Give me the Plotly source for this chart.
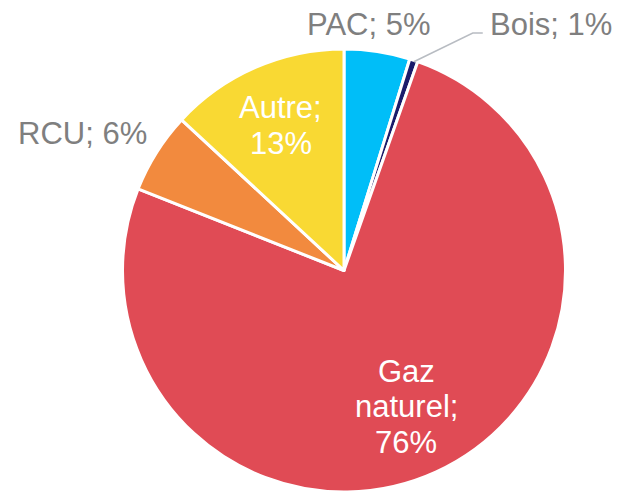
import math
import plotly.graph_objects as go

labels = ["PAC", "Bois", "Gaz naturel", "RCU", "Autre"]
values = [4.8, 0.6, 75.6, 5.9, 13.1]
colors = ["#00BEF8", "#1B1B6B", "#E04B55", "#F28A3E", "#F9D933"]
label_lines = [["PAC"], ["Bois"], ["Gaz", "naturel"], ["RCU"], ["Autre"]]

# label placement (pixel offsets relative to the slice's arc point / interior point)
W, H = 618, 492
CX, R = 344, 221.5
CY = H - R
placement = {
    "PAC": dict(kind="outside", dx=-9, dy=-27.5, xanchor="center"),
    "Bois": dict(kind="leader", xanchor="left"),
    "Gaz naturel": dict(kind="inside", frac=0.677),
    "RCU": dict(kind="outside", dx=-7.5, dy=-18.5, xanchor="right"),
    "Autre": dict(kind="inside", frac=0.715),
}
LINE_H = 35.5
FONT = "Liberation Sans, Arial, sans-serif"
FSIZE = 31
GRAY = "#7F7F7F"

total = sum(values)

fig = go.Figure(go.Pie(
    labels=labels,
    values=values,
    textinfo="none",
    sort=False,
    direction="clockwise",
    rotation=0,
    marker=dict(colors=colors, line=dict(color="white", width=3)),
    domain=dict(x=[(CX - R) / W, (CX + R) / W], y=[0, 2 * R / H]),
    showlegend=False,
    hoverinfo="label+percent",
))


def px2paper(x, y):
    return x / W, 1 - y / H


annotations = []
shapes = []
cum = 0.0
for name, v, lines in zip(labels, values, label_lines):
    pct = round(v / total * 100)
    mid = (cum + v / 2) / total * 2 * math.pi
    cum += v
    sx, sy = math.sin(mid), -math.cos(mid)
    p = placement[name]
    if p["kind"] == "inside":
        tx, ty = CX + R * p["frac"] * sx, CY + R * p["frac"] * sy
        parts = lines[:-1] + [lines[-1] + ";", f"{pct}%"]
        n = len(parts)
        for i, t in enumerate(parts):
            yy = ty + (i - (n - 1) / 2) * LINE_H
            x, y = px2paper(tx, yy)
            annotations.append(dict(x=x, y=y, xref="paper", yref="paper", text=t,
                                    showarrow=False, xanchor="center", yanchor="middle",
                                    font=dict(color="white", size=FSIZE, family=FONT)))
    else:
        ax, ay = CX + R * sx, CY + R * sy
        text = " ".join(lines) + f"; {pct}%"
        if p["kind"] == "outside":
            x, y = px2paper(ax + p["dx"], ay + p["dy"])
        else:
            ex, ey = ax + 59, 33
            fx = ex + 10
            x0, y0 = px2paper(ax, ay + 1.5)
            x1, y1 = px2paper(ex, ey)
            x2, y2 = px2paper(fx, ey)
            shapes.append(dict(type="path", xref="paper", yref="paper",
                               path=f"M {x0},{y0} L {x1},{y1} L {x2},{y2}",
                               line=dict(color="#B8BCC2", width=1.5)))
            x, y = px2paper(fx + 5, 24)
        annotations.append(dict(x=x, y=y, xref="paper", yref="paper", text=text,
                                showarrow=False, xanchor=p["xanchor"], yanchor="middle",
                                font=dict(color=GRAY, size=FSIZE, family=FONT)))

fig.update_layout(
    width=W, height=H,
    margin=dict(l=0, r=0, t=0, b=0),
    paper_bgcolor="white",
    plot_bgcolor="white",
    font=dict(family=FONT),
    annotations=annotations,
    shapes=shapes,
)

fig.write_html("out.html", config={"displayModeBar": False},
               post_script="document.body.style.margin='0';")
